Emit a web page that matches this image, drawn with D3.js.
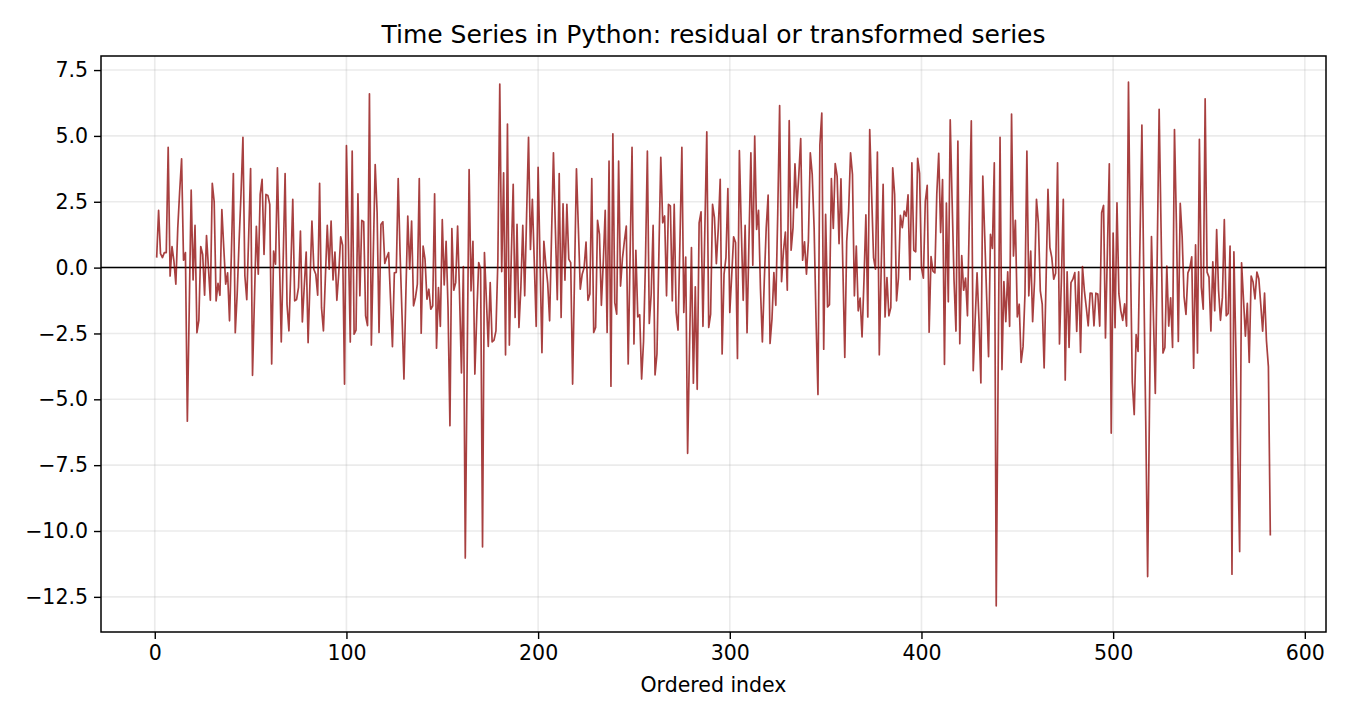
<!DOCTYPE html>
<html>
<head>
<meta charset="utf-8">
<script src="https://cdn.jsdelivr.net/npm/d3@7"></script>
<style>
  html, body { margin: 0; padding: 0; background: #fff; }
  svg { display: block; font-family: "DejaVu Sans", sans-serif; }
</style>
</head>
<body>
<div id="chart"></div>
<script>
// series values, index starts at 1
const firstIndex = 1;
const residuals = [
  0.38, 2.17, 0.53, 0.38, 0.57, 0.57, 4.57, -0.32, 0.8, 0.25,
  -0.63, 1.5, 2.9, 4.13, 0.28, 0.57, -5.83, -1.5, 2.94, -0.47,
  1.6, -2.47, -2.0, 0.8, 0.5, -1.05, 1.22, 0, -1.24, 3.2,
  2.5, -1.26, -0.6, -1.05, 2.2, 0.76, -0.63, -0.2, -2.02, 0.6,
  3.57, -2.47, -1.0, 1.0, 2.8, 4.95, -0.3, -1.22, 1.2, 3.76,
  -4.09, -1.2, 1.57, -0.25, 2.78, 3.35, 0.5, 2.78, 2.74, 2.4,
  -3.66, 0.63, 0.13, 3.79, 0.5, -2.82, 0.3, 3.57, -1.39, -2.4,
  0, 2.59, -1.26, -1.21, -0.75, 1.39, -2.06, -0.7, 0.59, -2.85,
  -0.5, 1.77, -0.06, -0.25, -1.05, 3.2, -1.52, -2.4, -0.4, 1.6,
  -0.06, 1.77, -0.47, 0.59, -1.24, -0.2, 1.17, 0.85, -4.42, 4.63,
  1.0, -2.82, 4.42, -2.53, -2.37, 2.8, -1.07, 1.79, 1.74, -1.83,
  -2.2, 6.6, -2.94, 0.5, 3.91, 2.1, -2.46, 1.64, 1.74, 0.16,
  0.38, 0.57, -1.2, -3.0, -0.2, -0.18, 3.38, 0.5, -1.8, -4.23,
  -1.0, 1.96, -0.06, 1.77, -1.45, -1.14, -0.63, 3.38, -2.49, 0.82,
  0.32, -1.2, -0.82, -1.58, -1.45, 2.8, -3.06, -0.76, -2.23, 1.82,
  -0.66, 1.0, -1.5, -6.0, 1.48, -0.86, -0.57, 1.58, -1.0, -4.0,
  0.04, -11.02, -3.5, 3.72, -0.88, 1.0, -4.04, -1.8, 0.19, -0.06,
  -10.6, 0.57, -1.2, -2.99, -0.57, -2.82, -2.75, -2.4, 0.25, 6.97,
  -0.15, 3.6, -3.31, 5.45, -2.94, 0.4, 3.16, -1.89, 1.64, -2.27,
  -0.76, 1.6, -1.07, 2.0, 4.95, 0.69, 2.59, 0.2, -2.23, 3.81,
  0.3, -3.23, 1.0, 0.13, -0.6, -2.02, 1.2, 4.36, 1.5, -1.22,
  3.57, -1.89, 2.42, -0.48, 2.4, 0.32, 0.19, -4.42, -0.3, 3.75,
  1.5, -0.82, -0.25, 0, 0.97, -1.24, -1.0, 3.38, -2.46, -2.27,
  1.79, 1.26, -1.43, 0.2, 2.17, -2.46, 4.04, -4.5, 5.08, -1.33,
  -1.77, 4.04, -0.7, 0.35, 1.0, 1.58, -3.66, 0.5, 4.57, -2.9,
  0.66, -1.87, -1.79, -4.23, -2.8, 0.2, 4.42, -2.12, -1.0, 1.6,
  -4.07, -3.28, 0.5, 4.19, 1.7, 1.96, -1.07, 2.4, 2.34, -1.26,
  2.4, -1.7, -2.37, 1.0, 4.57, -1.7, 0.4, -7.05, -3.0, 0.76,
  -4.39, -0.73, -4.62, 1.7, 2.12, -2.23, 1.5, 5.15, -2.27, -1.77,
  2.4, 1.9, 0.15, 1.5, 3.35, -3.28, -0.25, 0.38, 3.0, -1.7,
  -0.3, 1.17, 0.95, -3.45, 4.44, 1.5, -1.24, 1.6, -2.47, 1.0,
  4.36, 0.09, 4.99, 1.45, 2.17, -0.8, -2.82, -0.5, 1.5, 2.75,
  -2.88, -1.96, -0.19, -1.43, 2.0, 6.15, -0.53, 0.63, 1.35, -0.86,
  5.58, 0.66, 1.52, 3.94, 2.27, 3.5, 4.9, 0.28, 0.98, -0.25,
  1.0, 4.36, 3.54, 1.5, -2.0, -4.82, 4.67, 5.87, -3.1, 2.02,
  -1.49, -1.41, 3.38, 1.49, 3.95, 3.47, 0.91, 3.37, 0, -3.41,
  1.0, 2.15, 4.36, 3.54, -1.07, 0.82, -1.64, -1.16, -2.63, -0.5,
  2.0, -1.87, 5.24, 2.78, 0.38, -0.06, 4.39, -3.31, 0, 3.16,
  -1.87, -0.38, -1.83, -1.52, 3.79, 2.78, -1.26, -0.38, 1.98, 1.52,
  2.15, 1.95, 2.76, -0.46, 3.98, 0.66, 0.6, 4.15, 3.58, 0,
  -0.4, 2.52, 3.12, -2.45, 0.42, -0.13, -0.2, 2.8, 4.34, 1.33,
  3.34, -3.67, 2.45, -1.3, 5.61, 2.5, -0.5, -2.41, 4.8, -2.89,
  0.46, -0.86, -0.4, -1.83, 2.0, 5.57, -3.91, -2.0, -0.2, -2.0,
  -4.38, 3.47, 1.2, -1.1, -3.38, 1.26, 0.73, 3.98, -12.84, -4.0,
  4.95, -3.87, -0.53, -2.05, -0.16, -2.23, 5.83, 0.44, 1.79, -1.87,
  -1.39, -3.6, -3.0, -1.0, 4.42, -1.07, 0.63, -2.05, -0.5, 2.59,
  1.7, -0.88, -1.39, -3.81, -0.5, 2.97, 0.76, 0.38, -0.44, -0.21,
  3.98, -2.9, -0.5, 2.59, -4.27, -0.16, -3.03, -0.57, -0.44, -0.19,
  -2.42, -0.16, -3.22, 0.04, -0.88, -1.52, -2.21, -0.97, -0.98, -2.21,
  -0.97, -1.0, -2.22, 2.08, 2.36, -2.67, 0.6, 3.94, -6.28, 1.31,
  -2.28, 2.46, -1.0, -1.64, -2.0, -1.38, -2.22, 7.04, 0.5, -4.36,
  -5.58, -2.54, -3.18, 1.0, 5.41, -0.5, -5.8, -11.73, -5.0, 1.18,
  -1.8, -4.78, 0.5, 6.01, 1.5, -3.24, -3.03, 0.06, -2.22, -1.15,
  -3.03, 5.24, 1.69, -2.8, 2.44, 1.18, -1.1, -1.78, -0.2, -0.02,
  0.41, -3.82, 0.86, -3.24, 4.87, -0.74, -1.58, 6.41, -0.17, -0.36,
  -2.41, 0.22, -1.64, 1.44, -0.87, -2.0, -1.13, 1.82, -1.83, -1.74,
  0.82, -11.64, 0.6, -3.0, -7.0, -10.78, 0.18, -1.2, -2.6, -1.36,
  -3.6, -0.32, -0.55, -1.19, -0.17, -0.42, -1.38, -2.41, -0.97, -2.79,
  -3.76, -10.17
];
const xTicks = [0, 100, 200, 300, 400, 500, 600];
const yTicks = [7.5, 5.0, 2.5, 0.0, -2.5, -5.0, -7.5, -10.0, -12.5];
const titleText = 'Time Series in Python: residual or transformed series';
const xLabelText = 'Ordered index';

const width = 1350, height = 720;
const margin = { top: 56, right: 24, bottom: 88, left: 101 };
const innerW = width - margin.left - margin.right;
const innerH = height - margin.top - margin.bottom;

const points = residuals.map((v, i) => ({ x: i + firstIndex, y: v }));

// matplotlib style 5% padding on both axes
const pad = (ext) => {
  const d = (ext[1] - ext[0]) * 0.05;
  return [ext[0] - d, ext[1] + d];
};
const x = d3.scaleLinear()
  .domain(pad(d3.extent(points, d => d.x)))
  .range([0, innerW]);
const y = d3.scaleLinear()
  .domain(pad(d3.extent(points, d => d.y)))
  .range([innerH, 0]);

const svg = d3.select('#chart').append('svg')
  .attr('width', width)
  .attr('height', height);

const g = svg.append('g')
  .attr('transform', `translate(${margin.left},${margin.top})`);

// grid
g.append('g').selectAll('line')
  .data(xTicks).join('line')
  .attr('x1', d => x(d)).attr('x2', d => x(d))
  .attr('y1', 0).attr('y2', innerH)
  .attr('stroke', '#b0b0b0').attr('stroke-opacity', 0.25).attr('stroke-width', 1.6);
g.append('g').selectAll('line')
  .data(yTicks).join('line')
  .attr('x1', 0).attr('x2', innerW)
  .attr('y1', d => y(d)).attr('y2', d => y(d))
  .attr('stroke', '#b0b0b0').attr('stroke-opacity', 0.25).attr('stroke-width', 1.6);

// zero line
g.append('line')
  .attr('x1', 0).attr('x2', innerW)
  .attr('y1', y(0)).attr('y2', y(0))
  .attr('stroke', '#000').attr('stroke-width', 1.5);

// series
const line = d3.line().x(d => x(d.x)).y(d => y(d.y));
g.append('path')
  .datum(points)
  .attr('d', line)
  .attr('fill', 'none')
  .attr('stroke', '#8b0000')
  .attr('stroke-opacity', 0.75)
  .attr('stroke-width', 1.7)
  .attr('stroke-linejoin', 'round');

// axes
const fmtY = d3.format('.1f');
const xAxis = g.append('g')
  .attr('transform', `translate(0,${innerH})`)
  .call(d3.axisBottom(x).tickValues(xTicks).tickSize(7).tickPadding(6));
const yAxis = g.append('g')
  .call(d3.axisLeft(y).tickValues(yTicks).tickFormat(fmtY).tickSize(7).tickPadding(6));
[xAxis, yAxis].forEach(a => {
  a.select('.domain').remove();
  a.selectAll('.tick line').attr('stroke', '#000').attr('stroke-width', 1.4);
  a.selectAll('.tick text')
    .attr('fill', '#000')
    .style('font-family', '"DejaVu Sans", sans-serif')
    .style('font-size', '20.5px');
});

// frame
g.append('rect')
  .attr('x', 0).attr('y', 0)
  .attr('width', innerW).attr('height', innerH)
  .attr('fill', 'none').attr('stroke', '#000').attr('stroke-width', 1.5);

svg.append('text')
  .attr('x', margin.left + innerW / 2)
  .attr('y', 43)
  .attr('text-anchor', 'middle')
  .style('font-size', '25px')
  .text(titleText);

svg.append('text')
  .attr('x', margin.left + innerW / 2)
  .attr('y', 692)
  .attr('text-anchor', 'middle')
  .style('font-size', '20.5px')
  .text(xLabelText);
</script>
</body>
</html>
